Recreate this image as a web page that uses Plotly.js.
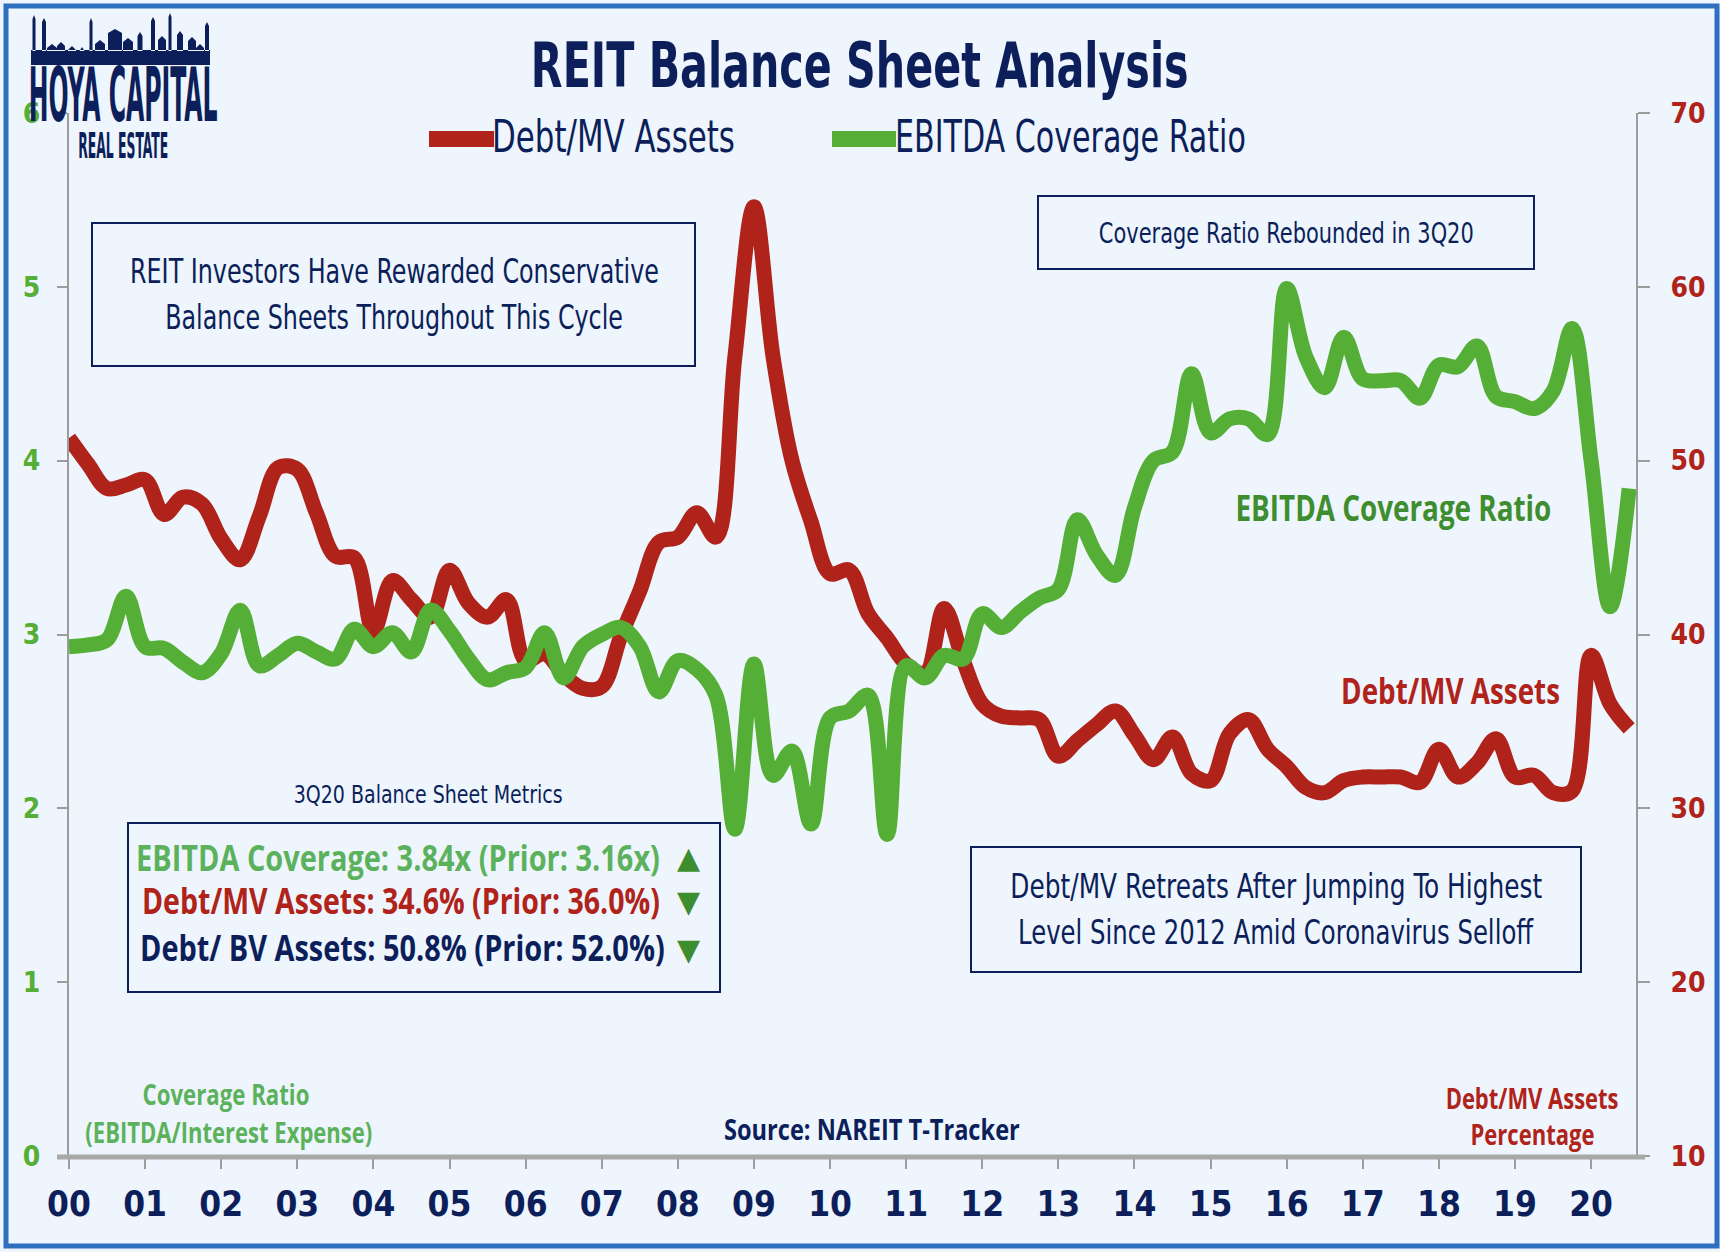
<!DOCTYPE html>
<html>
<head>
<meta charset="utf-8">
<script src="https://cdn.plot.ly/plotly-3.0.1.min.js"></script>
<style>
  html, body { margin: 0; padding: 0; background: #eef5fc; }
  #plot { width: 1720px; height: 1252px; }
</style>
</head>
<body>
<div id="plot"></div>
<script>
// quarterly readings, 1Q00 .. 3Q20
const debtMvAssets = [
  51.3, 49.8, 48.4, 48.6, 48.9, 46.9, 47.9, 47.5,
  45.5, 44.3, 46.8, 49.6, 49.5, 47.0, 44.5, 44.4,
  40.2, 43.1, 42.0, 41.0, 43.7, 41.8, 41.0, 42.0,
  38.5, 38.9, 37.7, 36.9, 37.0, 39.9, 42.5, 45.3,
  45.6, 47.0, 45.6, 56.0, 64.6, 56.0, 50.0, 46.5,
  43.5, 43.7, 41.2, 39.8, 38.3, 37.8, 41.5, 38.5,
  36.0, 35.3, 35.2, 35.1, 33.0, 33.9, 34.8, 35.6,
  34.2, 32.8, 34.1, 32.0, 31.6, 34.3, 35.1, 33.4,
  32.4, 31.2, 30.9, 31.6, 31.8, 31.8, 31.8, 31.5,
  33.4, 31.8, 32.6, 34.0, 31.8, 31.9, 30.9, 31.0,
  38.8, 36.0, 34.6
];
const ebitdaCoverage = [
  2.93, 2.94, 2.97, 3.22, 2.93, 2.92, 2.84, 2.78,
  2.89, 3.14, 2.82, 2.88, 2.95, 2.90, 2.86, 3.03,
  2.93, 3.01, 2.90, 3.14, 3.02, 2.86, 2.74, 2.78,
  2.81, 3.01, 2.75, 2.93, 3.00, 3.04, 2.93, 2.67,
  2.85, 2.80, 2.65, 1.88, 2.83, 2.19, 2.33, 1.91,
  2.52, 2.56, 2.65, 1.85, 2.82, 2.75, 2.88, 2.86,
  3.12, 3.04, 3.13, 3.21, 3.26, 3.66, 3.46, 3.34,
  3.73, 4.00, 4.05, 4.50, 4.16, 4.24, 4.24, 4.15,
  4.99, 4.60, 4.42, 4.71, 4.47, 4.46, 4.46, 4.36,
  4.55, 4.54, 4.66, 4.37, 4.34, 4.30, 4.40, 4.76,
  4.00, 3.16, 3.84
];
const yearTickValues = [0, 1, 2, 3, 4, 5, 6, 7, 8, 9, 10, 11, 12, 13, 14, 15, 16, 17, 18, 19, 20];
const yearTickLabels = ["00", "01", "02", "03", "04", "05", "06", "07", "08", "09", "10",
  "11", "12", "13", "14", "15", "16", "17", "18", "19", "20"];
const quarterX = debtMvAssets.map((_, i) => i / 4);

const W = 1720, H = 1252;
const M = { l: 69, r: 84, t: 113, b: 96 };
const PW = W - M.l - M.r, PH = H - M.t - M.b;
const px = (x) => (x - M.l) / PW;
const py = (y) => (H - M.b - y) / PH;

const NAVY = "#0c1f5a";
const RED = "#b0231a";
const GREEN = "#55ae35";
const LIGHT_GREEN = "#5cb25c";
const DARK_GREEN = "#3e8e2f";
const GRAY = "#9c9c9c";
const COND = "DejaVu Sans Condensed, DejaVu Sans, sans-serif";
const BOLD = "Open Sans, DejaVu Sans, sans-serif";

// text items: pixel centre (or left edge), size, width to squeeze to
const texts = [
  { t: "REIT Balance Sheet Analysis", x: 860, y: 66, s: 62, f: COND, b: true, c: NAVY, w: 658 },
  { t: "Debt/MV Assets", x: 492, y: 136, s: 45, f: COND, c: NAVY, w: 243, left: true },
  { t: "EBITDA Coverage Ratio", x: 895, y: 136, s: 45, f: COND, c: NAVY, w: 351, left: true },
  { t: "HOYA CAPITAL", x: 123, y: 95, s: 74, f: COND, b: true, c: NAVY, w: 189 },
  { t: "REAL ESTATE", x: 123, y: 145, s: 36, f: COND, b: true, c: NAVY, w: 90 },
  { t: "REIT Investors Have Rewarded Conservative", x: 394, y: 271, s: 34, f: COND, c: NAVY, w: 529 },
  { t: "Balance Sheets Throughout This Cycle", x: 394, y: 317, s: 34, f: COND, c: NAVY, w: 458 },
  { t: "Coverage Ratio Rebounded in 3Q20", x: 1286, y: 233, s: 29, f: COND, c: NAVY, w: 375 },
  { t: "3Q20 Balance Sheet Metrics", x: 428, y: 794, s: 25, f: COND, c: NAVY, w: 269 },
  { t: "EBITDA Coverage: 3.84x (Prior: 3.16x)", x: 136, y: 857, s: 36, f: BOLD, b: true, c: LIGHT_GREEN, w: 524, left: true },
  { t: "Debt/MV Assets: 34.6% (Prior: 36.0%)", x: 142, y: 900, s: 36, f: BOLD, b: true, c: RED, w: 518, left: true },
  { t: "Debt/ BV Assets: 50.8% (Prior: 52.0%)", x: 140, y: 947, s: 36, f: BOLD, b: true, c: NAVY, w: 525, left: true },
  { t: "▲", x: 688, y: 857, s: 30, f: "DejaVu Sans", c: DARK_GREEN },
  { t: "▼", x: 688, y: 901, s: 30, f: "DejaVu Sans", c: DARK_GREEN },
  { t: "▼", x: 688, y: 949, s: 30, f: "DejaVu Sans", c: DARK_GREEN },
  { t: "Debt/MV Retreats After Jumping To Highest", x: 1276, y: 886, s: 34, f: COND, c: NAVY, w: 532 },
  { t: "Level Since 2012 Amid Coronavirus Selloff", x: 1276, y: 932, s: 34, f: COND, c: NAVY, w: 516 },
  { t: "EBITDA Coverage Ratio", x: 1393, y: 507, s: 35, f: BOLD, b: true, c: DARK_GREEN, w: 316 },
  { t: "Debt/MV Assets", x: 1450, y: 690, s: 35, f: BOLD, b: true, c: RED, w: 219 },
  { t: "Coverage Ratio", x: 226, y: 1093, s: 29, f: BOLD, b: true, c: LIGHT_GREEN, w: 167 },
  { t: "(EBITDA/Interest Expense)", x: 229, y: 1131, s: 29, f: BOLD, b: true, c: LIGHT_GREEN, w: 287 },
  { t: "Source: NAREIT T-Tracker", x: 872, y: 1128, s: 29, f: BOLD, b: true, c: NAVY, w: 296 },
  { t: "Debt/MV Assets", x: 1532, y: 1097, s: 29, f: BOLD, b: true, c: RED, w: 173 },
  { t: "Percentage", x: 1532, y: 1133, s: 29, f: BOLD, b: true, c: RED, w: 124 },
];

const annotations = texts.map((d) => ({
  text: d.t,
  xref: "paper", yref: "paper",
  x: px(d.x), y: py(d.y),
  xanchor: d.left ? "left" : "center",
  yanchor: "middle",
  align: d.left ? "left" : "center",
  showarrow: false,
  borderpad: 0,
  borderwidth: 0,
  font: { family: d.f, size: d.s, color: d.c, weight: d.b ? 700 : 400 },
}));

function rectPx(x0, y0, x1, y1, color, width) {
  return {
    type: "rect", xref: "paper", yref: "paper",
    x0: px(x0), x1: px(x1), y0: py(y0), y1: py(y1),
    line: { color: color, width: width }, fillcolor: "rgba(0,0,0,0)",
  };
}
function linePx(x0, y0, x1, y1, color, width) {
  return {
    type: "line", xref: "paper", yref: "paper",
    x0: px(x0), x1: px(x1), y0: py(y0), y1: py(y1),
    line: { color: color, width: width },
  };
}

// logo skyline, [centre x, width, top y] in pixels
const skyline = [
  [34, 3, 15], [44, 4, 18], [52, 10, 44], [61, 8, 42], [72, 8, 46], [82, 5, 47],
  [91, 3, 18], [100, 10, 40], [115, 14, 29], [128, 10, 38], [140, 5, 32],
  [153, 4, 17], [162, 8, 36], [170, 3, 13], [180, 6, 31], [192, 8, 37], [200, 8, 44], [207, 4, 22],
];
function skylinePath() {
  let p = `M${px(31)},${py(65)} L${px(210)},${py(65)} L${px(210)},${py(50)} L${px(31)},${py(50)} Z`;
  for (const [cx, w, top] of skyline) {
    p += ` M${px(cx - w / 2)},${py(51)} L${px(cx - w / 2)},${py(top + 4)} L${px(cx)},${py(top)}` +
      ` L${px(cx + w / 2)},${py(top + 4)} L${px(cx + w / 2)},${py(51)} Z`;
  }
  return p;
}

const shapes = [
  rectPx(92, 223, 695, 366, NAVY, 2),
  rectPx(1038, 196, 1534, 269, NAVY, 2),
  rectPx(128, 823, 720, 992, NAVY, 2),
  rectPx(971, 847, 1581, 972, NAVY, 2),
  linePx(429, 139, 494, 139, RED, 16),
  linePx(832, 139, 896, 139, GREEN, 16),
  linePx(57, 1157, 1645, 1157, "#a8a8a8", 5),
  { type: "path", xref: "paper", yref: "paper", path: skylinePath(), fillcolor: NAVY, line: { width: 0 } },
  rectPx(6, 6, 1717, 1246, "#2f6fbf", 5),
];

const traces = [
  {
    type: "scatter", mode: "lines", name: "Debt/MV Assets",
    x: quarterX, y: debtMvAssets, yaxis: "y",
    line: { color: RED, width: 15, shape: "spline", smoothing: 1 },
    hoverinfo: "skip",
  },
  {
    type: "scatter", mode: "lines", name: "EBITDA Coverage Ratio",
    x: quarterX, y: ebitdaCoverage, yaxis: "y2",
    line: { color: GREEN, width: 15, shape: "spline", smoothing: 1 },
    hoverinfo: "skip",
  },
];

const layout = {
  width: W, height: H,
  margin: M,
  paper_bgcolor: "#eef5fc",
  plot_bgcolor: "#eef5fc",
  showlegend: false,
  xaxis: {
    range: [0, 20.59],
    tickvals: yearTickValues, ticktext: yearTickLabels,
    ticks: "outside", ticklen: 12, tickwidth: 2, tickcolor: GRAY,
    showline: false, showgrid: false, zeroline: false,
    ticklabelstandoff: 5,
    tickfont: { family: COND, size: 35, color: NAVY, weight: 700 },
  },
  yaxis: {
    side: "right", range: [10, 70], dtick: 10,
    ticks: "outside", ticklen: 12, tickwidth: 2, tickcolor: GRAY,
    showline: true, linecolor: GRAY, linewidth: 2,
    showgrid: false, zeroline: false,
    ticklabelstandoff: 15,
    tickfont: { family: COND, size: 28, color: RED, weight: 700 },
  },
  yaxis2: {
    overlaying: "y", side: "left", range: [0, 6], dtick: 1,
    ticks: "outside", ticklen: 10, tickwidth: 2, tickcolor: GRAY,
    showline: true, linecolor: GRAY, linewidth: 2,
    showgrid: false, zeroline: false,
    ticklabelstandoff: 11,
    tickfont: { family: COND, size: 28, color: GREEN, weight: 700 },
  },
  annotations: annotations,
  shapes: shapes,
};

Plotly.newPlot("plot", traces, layout, { staticPlot: true }).then((gd) => {
  // squeeze the condensed lettering to the widths measured on the reference
  texts.forEach((d, i) => {
    if (!d.w) return;
    const g = gd.querySelector(`g.annotation[data-index="${i}"]`);
    const t = g && g.querySelector("text.annotation-text");
    if (!t) return;
    const k = d.w / t.getBBox().width;
    g.setAttribute("transform", `translate(${d.x},0) scale(${k},1) translate(${-d.x},0)`);
  });
});
</script>
</body>
</html>
